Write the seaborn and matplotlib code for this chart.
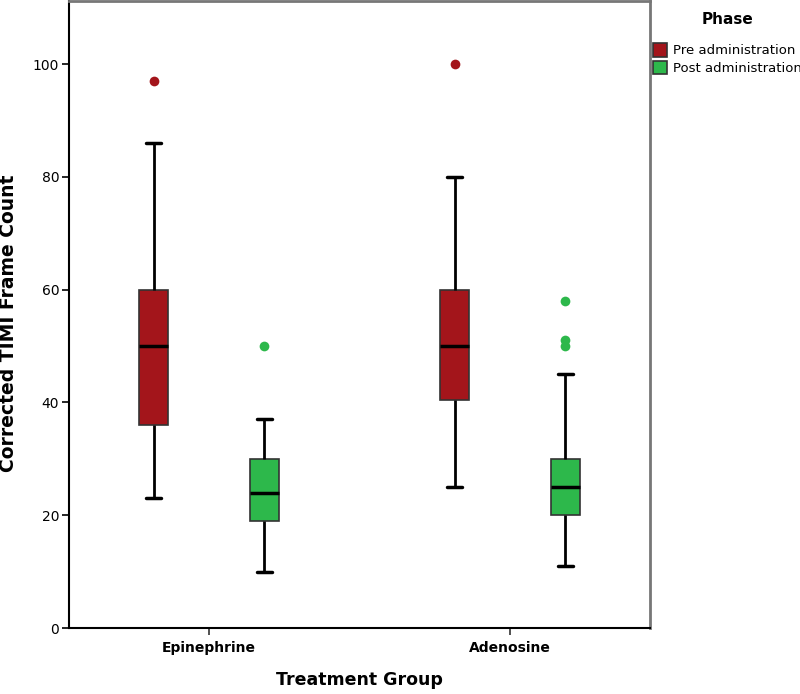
import numpy as np
import pandas as pd
import matplotlib
matplotlib.use("Agg")
import matplotlib.pyplot as plt
import seaborn as sns

# Values (box summary per group / phase)
groups = ["Epinephrine", "Adenosine"]
phases = ["Pre administration", "Post administration"]

# order: Epi-pre, Epi-post, Ade-pre, Ade-post
whisker_low = [23, 10, 25, 11]
q1 = [36, 19, 40.5, 20]
median = [50, 24, 50, 25]
q3 = [60, 30, 60, 30]
whisker_high = [86, 37, 80, 45]
outliers = [[97], [50], [100], [50, 51, 58]]

colors = {"Pre administration": "#A3151B", "Post administration": "#2DB84B"}


def build_values(lo, a, m, b, hi, out):
    # repeated read-off values so that quartiles land exactly on a, m, b
    k = len(out)
    n = 4 * (k + 1) + 1
    vals = [lo] + [a] * (k + 1) + [m] * (k + 1) + [b] * (k + 1)
    vals += [hi] * (n - len(vals) - k) + list(out)
    return vals


rows = []
i = 0
for g in groups:
    for p in phases:
        for v in build_values(whisker_low[i], q1[i], median[i], q3[i],
                              whisker_high[i], outliers[i]):
            rows.append({"Treatment Group": g, "Phase": p, "value": v})
        i += 1
df = pd.DataFrame(rows)

sns.set_theme(style="white")
plt.rcParams["font.family"] = ["DejaVu Sans"]
plt.rcParams["text.color"] = "black"
plt.rcParams["axes.labelcolor"] = "black"
plt.rcParams["xtick.color"] = "black"
plt.rcParams["ytick.color"] = "black"

fig = plt.figure(figsize=(8, 6.94), dpi=100)
ax = fig.add_axes([0.08625, 0.0951, 0.72625, 0.9035])

sns.boxplot(data=df, x="Treatment Group", y="value", hue="Phase",
            order=groups, hue_order=phases, palette=colors,
            width=0.737, gap=0.745, linecolor="#333333", linewidth=1.2,
            saturation=1, ax=ax,
            whiskerprops=dict(color="black", linewidth=2),
            capprops=dict(color="black", linewidth=2.5),
            medianprops=dict(color="black", linewidth=2.5),
            flierprops=dict(marker="o", markersize=7, markeredgecolor="none"))

for cont, p in zip(ax.containers, phases):
    for fl in cont.fliers:
        fl.set_markerfacecolor(colors[p])
        fl.set_markeredgecolor("none")
    for cap in cont.caps:
        xs = cap.get_xdata()
        mid = (xs[0] + xs[1]) / 2
        cap.set_xdata([mid - 0.024, mid + 0.024])

ax.set_xlim(-0.465, 1.465)
ax.set_ylim(0, 111.2)
ax.set_yticks([0, 20, 40, 60, 80, 100])
ax.set_ylabel("Corrected TIMI Frame Count", fontsize=13.5, fontweight="bold")
ax.yaxis.set_label_coords(-0.088, 0.486)
ax.set_xlabel("Treatment Group", fontsize=12.5, fontweight="bold", labelpad=12)
ax.tick_params(axis="y", labelsize=10, length=5, width=1.2,
               left=True, pad=2)
ax.tick_params(axis="x", labelsize=10, length=5, width=1.2, color="#333333",
               bottom=True, pad=4)
for t in ax.get_xticklabels():
    t.set_fontweight("bold")

for s in ["left", "bottom"]:
    ax.spines[s].set_color("black")
    ax.spines[s].set_linewidth(1.5)
for s in ["top", "right"]:
    ax.spines[s].set_color("#777777")
    ax.spines[s].set_linewidth(2)

sns.move_legend(ax, "upper left", bbox_to_anchor=(0.816, 0.983),
                bbox_transform=fig.transFigure, frameon=False,
                title="Phase", fontsize=9.5,
                title_fontproperties={"weight": "bold", "size": 11},
                handlelength=1.1, handleheight=1.15, handletextpad=0.4,
                labelspacing=0.25, borderaxespad=0, borderpad=0)
leg = ax.get_legend()
leg._legend_box.sep = 12

fig.savefig("out.png", dpi=100)
